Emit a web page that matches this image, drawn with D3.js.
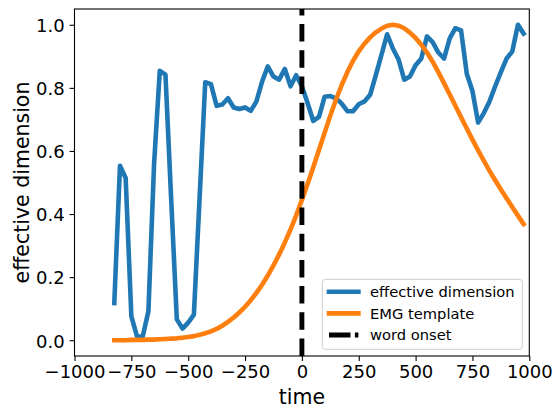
<!DOCTYPE html>
<html>
<head>
<meta charset="utf-8">
<script src="https://cdn.jsdelivr.net/npm/d3@7"></script>
<style>
  html, body { margin: 0; padding: 0; background: #fff; }
  svg { display: block; font-family: "DejaVu Sans", sans-serif; }
</style>
</head>
<body>
<svg id="chart" width="553" height="408"></svg>
<script>
// Sample times (ms relative to word onset)
const times = [
  -825, -800, -775, -750, -725, -700, -675, -650, -625, -600, -575, -550, -525,
  -500, -475, -450, -425, -400, -375, -350, -325, -300, -275, -250, -225, -200,
  -175, -150, -125, -100, -75, -50, -25, 0, 25, 50, 75, 100, 125, 150, 175, 200,
  225, 250, 275, 300, 325, 350, 375, 400, 425, 450, 475, 500, 525, 550, 575, 600,
  625, 650, 675, 700, 725, 750, 775, 800, 825, 850, 875, 900, 925, 950, 975
];

// Effective dimension (normalised)
const effectiveDimension = [
  0.118, 0.553, 0.514, 0.076, 0.012, 0.012, 0.092, 0.560, 0.854, 0.842, 0.450, 0.066, 0.037,
  0.056, 0.081, 0.450, 0.818, 0.812, 0.743, 0.747, 0.767, 0.738, 0.733, 0.738, 0.727, 0.757,
  0.820, 0.868, 0.836, 0.826, 0.860, 0.805, 0.840, 0.805, 0.752, 0.695, 0.708, 0.772, 0.774, 0.767, 0.750, 0.726,
  0.726, 0.748, 0.757, 0.778, 0.840, 0.905, 0.970, 0.925, 0.890, 0.826, 0.836, 0.872, 0.893, 0.963, 0.945, 0.912,
  0.893, 0.957, 0.989, 0.982, 0.845, 0.790, 0.690, 0.720, 0.757, 0.805, 0.850, 0.893, 0.915, 1.000, 0.972
];

// EMG template (normalised)
const emgTemplate = [
  0.000, 0.000, 0.000, 0.001, 0.001, 0.001, 0.002, 0.002, 0.003, 0.004, 0.005, 0.006, 0.008,
  0.010, 0.013, 0.017, 0.022, 0.028, 0.036, 0.046, 0.058, 0.072, 0.088, 0.106, 0.127, 0.150,
  0.176, 0.205, 0.237, 0.272, 0.310, 0.351, 0.396, 0.445, 0.495, 0.548, 0.603, 0.658, 0.712, 0.763, 0.809, 0.850,
  0.886, 0.916, 0.940, 0.960, 0.976, 0.988, 0.997, 1.000, 0.997, 0.989, 0.975, 0.958, 0.937, 0.912, 0.883, 0.850,
  0.815, 0.779, 0.743, 0.707, 0.671, 0.636, 0.602, 0.569, 0.537, 0.507, 0.478, 0.450, 0.422, 0.395, 0.368
];

const onsetTime = 0;

const xTicks = [-1000, -750, -500, -250, 0, 250, 500, 750, 1000];
const yTicks = [0.0, 0.2, 0.4, 0.6, 0.8, 1.0];

const seriesNames = ["effective dimension", "EMG template", "word onset"];
const colors = { blue: "#1f77b4", orange: "#ff7f0e", black: "#000000" };

// Layout
const plot = { left: 74.5, right: 529.3, top: 9, bottom: 356 };
const tickFont = 18;
const labelFont = 20.5;
const legendFont = 14.7;

const svg = d3.select("#chart");

const x = d3.scaleLinear().domain([-1000, 1000]).range([plot.left, plot.right]);
const y = d3.scaleLinear().domain([-0.05, 1.05]).range([plot.bottom, plot.top]);

const minus = s => s.replace(/-/g, "\u2212");

// X axis
const xAxis = svg.append("g")
  .attr("transform", `translate(0,${plot.bottom})`)
  .call(d3.axisBottom(x).tickValues(xTicks).tickSize(4.9).tickPadding(4.2)
    .tickFormat(d => minus(d3.format("d")(d))));
xAxis.select(".domain").remove();
xAxis.selectAll(".tick line").attr("stroke", "#000").attr("stroke-width", 1.1);
xAxis.selectAll(".tick text")
  .attr("fill", "#000").attr("font-size", tickFont)
  .attr("font-family", "DejaVu Sans").attr("dy", "0.74em");

// Y axis
const yAxis = svg.append("g")
  .attr("transform", `translate(${plot.left},0)`)
  .call(d3.axisLeft(y).tickValues(yTicks).tickSize(4.9).tickPadding(4.9)
    .tickFormat(d3.format(".1f")));
yAxis.select(".domain").remove();
yAxis.selectAll(".tick line").attr("stroke", "#000").attr("stroke-width", 1.1);
yAxis.selectAll(".tick text")
  .attr("fill", "#000").attr("font-size", tickFont)
  .attr("font-family", "DejaVu Sans").attr("dy", "0.38em");

// Series
const line = d3.line().x(d => x(d[0])).y(d => y(d[1]));

svg.append("path")
  .datum(d3.zip(times, effectiveDimension))
  .attr("d", line)
  .attr("fill", "none")
  .attr("stroke", colors.blue)
  .attr("stroke-width", 4.6)
  .attr("stroke-linejoin", "round")
  .attr("stroke-linecap", "square");

svg.append("path")
  .datum(d3.zip(times, emgTemplate))
  .attr("d", line)
  .attr("fill", "none")
  .attr("stroke", colors.orange)
  .attr("stroke-width", 4.6)
  .attr("stroke-linejoin", "round")
  .attr("stroke-linecap", "square");

// Word onset marker, dashed from the bottom of the axes upward
svg.append("line")
  .attr("x1", x(onsetTime)).attr("x2", x(onsetTime))
  .attr("y1", plot.bottom).attr("y2", plot.top)
  .attr("stroke", colors.black)
  .attr("stroke-width", 4.9)
  .attr("stroke-dasharray", "17.5 8.7");

// Spines
svg.append("rect")
  .attr("x", plot.left).attr("y", plot.top)
  .attr("width", plot.right - plot.left).attr("height", plot.bottom - plot.top)
  .attr("fill", "none").attr("stroke", "#000").attr("stroke-width", 1.1);

// Axis labels
svg.append("text")
  .attr("x", (plot.left + plot.right) / 2).attr("y", 404)
  .attr("text-anchor", "middle").attr("font-size", labelFont).attr("fill", "#000")
  .text("time");

svg.append("text")
  .attr("transform", `translate(28.5,${(plot.top + plot.bottom) / 2}) rotate(-90)`)
  .attr("text-anchor", "middle").attr("font-size", labelFont).attr("fill", "#000")
  .text("effective dimension");

// Legend
const legend = svg.append("g");
legend.append("rect")
  .attr("x", 322.3).attr("y", 279.3).attr("width", 200).attr("height", 70)
  .attr("rx", 3).attr("ry", 3)
  .attr("fill", "#fff").attr("fill-opacity", 0.8)
  .attr("stroke", "#cccccc").attr("stroke-width", 1);

const legendRows = [
  { name: seriesNames[0], color: colors.blue, dash: null, cap: "square" },
  { name: seriesNames[1], color: colors.orange, dash: null, cap: "square" },
  { name: seriesNames[2], color: colors.black, dash: "21.5 4.4", cap: "butt" }
];
const rowY = d3.scalePoint().domain(seriesNames).range([291.7, 335]);

legendRows.forEach(r => {
  const cy = rowY(r.name);
  legend.append("line")
    .attr("x1", 329).attr("x2", 358.4).attr("y1", cy).attr("y2", cy)
    .attr("stroke", r.color).attr("stroke-width", r.dash ? 4.9 : 4.6)
    .attr("stroke-linecap", r.cap)
    .attr("stroke-dasharray", r.dash);
  legend.append("text")
    .attr("x", 370).attr("y", cy + 5.2)
    .attr("font-size", legendFont).attr("fill", "#000")
    .text(r.name);
});
</script>
</body>
</html>
